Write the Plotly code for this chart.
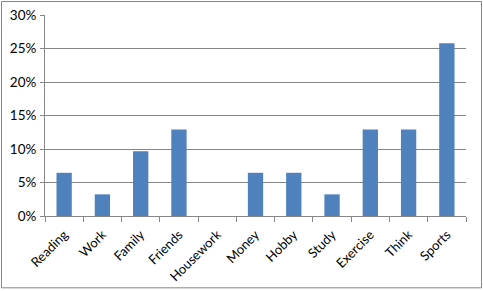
import plotly.graph_objects as go

categories = ["Reading", "Work", "Family", "Friends", "Housework", "Money",
              "Hobby", "Study", "Exercise", "Think", "Sports"]
values = [0.0645, 0.0323, 0.0968, 0.129, 0.0, 0.0645,
          0.0645, 0.0323, 0.129, 0.129, 0.258]
ytick_vals = [0, 0.05, 0.10, 0.15, 0.20, 0.25, 0.30]
ytick_text = ["0%", "5%", "10%", "15%", "20%", "25%", "30%"]

W, H = 483, 291
L, R, T, B = 45, 17, 15, 74.5
pw, ph = W - L - R, H - T - B

fig = go.Figure(go.Bar(x=categories, y=values, marker_color="#4F81BD",
                       marker_line_width=0))

def px2paper_x(p):
    return (p - L) / pw

def px2paper_y(p):
    return (H - B - p) / ph

fig.add_shape(type="rect", xref="paper", yref="paper",
              x0=px2paper_x(1.5), x1=px2paper_x(481.5),
              y0=px2paper_y(288.5), y1=px2paper_y(1.5),
              line=dict(color="#868686", width=1), layer="below")

fig.update_layout(
    width=W, height=H,
    margin=dict(l=L, r=R, t=T, b=B),
    paper_bgcolor="white", plot_bgcolor="white",
    bargap=0.6, showlegend=False,
    font=dict(family="Lato, Open Sans, sans-serif", size=13, color="#000000"),
)
fig.update_xaxes(
    tickangle=-45, showline=True, linecolor="#868686", linewidth=1,
    ticks="outside", tickson="boundaries", ticklen=5, tickcolor="#868686",
    showgrid=False, zeroline=False, tickfont=dict(size=13),
    ticklabelstandoff=5, automargin=False,
)
fig.update_yaxes(
    range=[0, 0.30], tickvals=ytick_vals, ticktext=ytick_text,
    showline=True, linecolor="#868686", linewidth=1,
    ticks="outside", ticklen=4, tickcolor="#868686",
    showgrid=True, gridcolor="#868686", gridwidth=1, zeroline=False,
    tickfont=dict(size=13.5), ticklabelstandoff=1, automargin=False,
)

fig.write_html("out.html")
